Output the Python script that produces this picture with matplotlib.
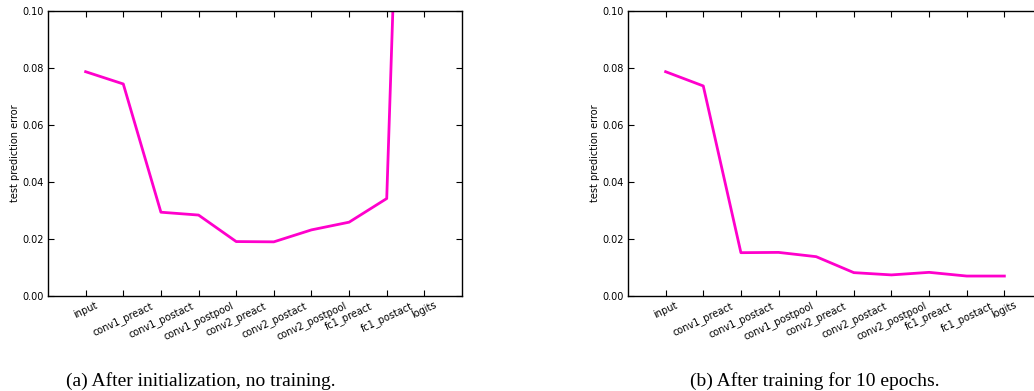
"""Test prediction error of linear probes per layer, before and after training."""

import matplotlib
matplotlib.use("Agg")
import matplotlib.pyplot as plt
import numpy as np

LAYERS = [
    "input", "conv1_preact", "conv1_postact", "conv1_postpool",
    "conv2_preact", "conv2_postact", "conv2_postpool",
    "fc1_preact", "fc1_postact", "logits",
]

# test prediction error per probe
ERR_INIT = [0.0787, 0.0744, 0.0294, 0.0284, 0.0191, 0.0190,
            0.0232, 0.0259, 0.0342, 0.44]
ERR_TRAINED = [0.0787, 0.0737, 0.0152, 0.0153, 0.0138, 0.0082,
               0.0074, 0.0083, 0.0070, 0.0070]

CAPTIONS = [
    "(a) After initialization, no training.",
    "(b) After training for 10 epochs.",
]

LINE_COLOR = "#FF00CC"

W, H = 1034, 391
fig = plt.figure(figsize=(W / 100, H / 100), dpi=100)

# axes boxes in pixels: (left, top, right, bottom)
boxes = [(48, 11, 462, 296), (628, 11, 1042, 296)]
caption_x = [201, 815]

for (l, t, r, b), errs, cap, cx in zip(boxes, [ERR_INIT, ERR_TRAINED],
                                       CAPTIONS, caption_x):
    ax = fig.add_axes([l / W, 1 - b / H, (r - l) / W, (b - t) / H])
    x = np.arange(len(LAYERS))
    ax.plot(x, errs, color=LINE_COLOR, linewidth=2.0, clip_on=True)
    ax.set_xlim(-1, len(LAYERS))
    ax.set_ylim(0, 0.10)
    ax.set_yticks(np.arange(0, 0.101, 0.02))
    ax.set_yticklabels([f"{v:.2f}" for v in np.arange(0, 0.101, 0.02)])
    ax.set_xticks(x)
    ax.set_xticklabels(LAYERS, rotation=25, ha="center")
    ax.tick_params(direction="in", top=True, right=True, length=4,
                   width=0.8, labelsize=7, pad=3)
    for sp in ax.spines.values():
        sp.set_linewidth(1.0)
    ax.set_ylabel("test prediction error", fontsize=7, labelpad=2)
    fig.text(cx / W, 1 - 381 / H, cap, ha="center", va="center",
             fontsize=14, family="Liberation Serif")

fig.savefig("out.png", dpi=100)
